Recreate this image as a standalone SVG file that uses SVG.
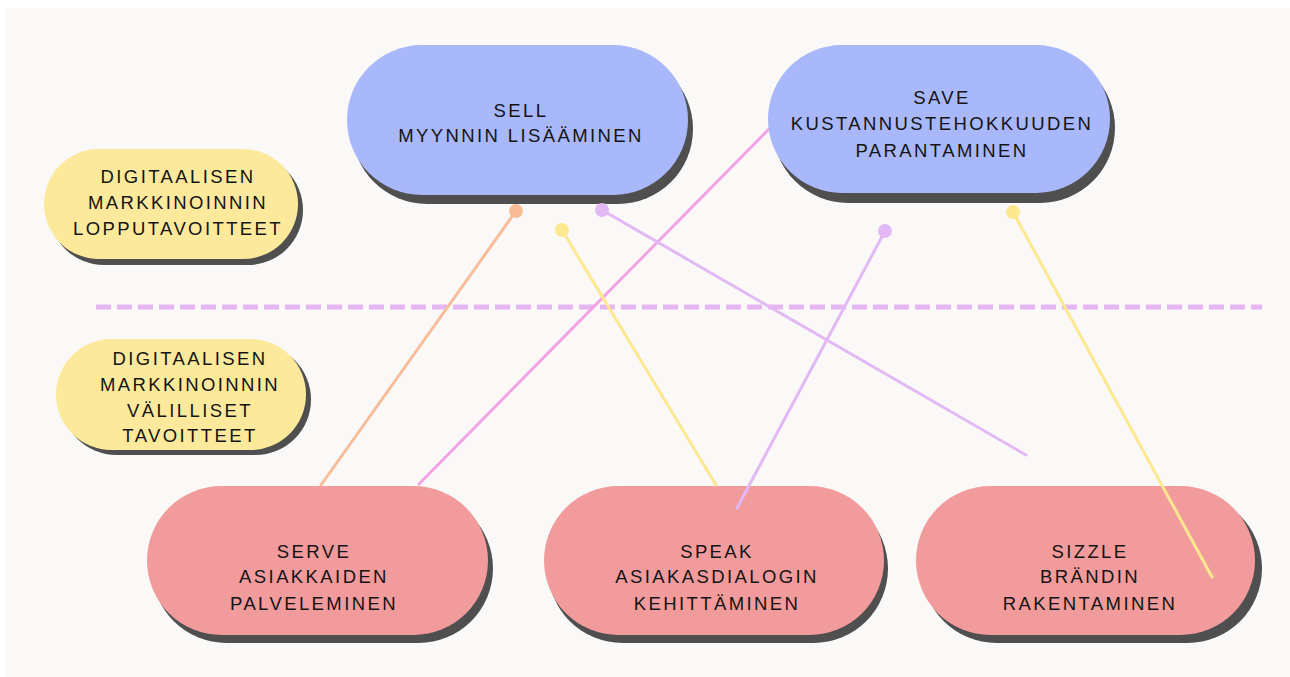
<svg xmlns="http://www.w3.org/2000/svg" width="1290" height="677" viewBox="0 0 1290 677">
<style>
.sh{fill:#4f4f4f}
.blue{fill:#a9b8fa}
.yel{fill:#fde99b}
.red{fill:#f29b9c}
.t{font-family:"Liberation Sans",Arial,sans-serif;font-size:18.5px;letter-spacing:2.4px;fill:#141414;text-anchor:middle}
.c{fill:none;stroke-width:3;stroke-linecap:round}
</style>
<rect x="0" y="0" width="1290" height="677" fill="#ffffff"/>
<rect x="6" y="8" width="1284" height="669" fill="#faf9f8"/>
<g id="divider">
<line x1="96" y1="307" x2="1262" y2="307" stroke="#e6b6f2" stroke-width="5" stroke-dasharray="15 6"/>
</g>
<g id="node-lopputavoitteet">
<rect class="sh" x="49" y="155" width="254" height="110" rx="55"/>
<rect class="yel" x="44" y="149" width="254" height="110" rx="55"/>
<text class="t" x="178"><tspan x="178" y="183">DIGITAALISEN</tspan><tspan x="178" y="209">MARKKINOINNIN</tspan><tspan x="178" y="235">LOPPUTAVOITTEET</tspan></text>
</g>
<g id="node-valilliset">
<rect class="sh" x="61" y="344" width="250" height="111" rx="55.5"/>
<rect class="yel" x="56" y="339" width="250" height="111" rx="55.5"/>
<text class="t" x="190"><tspan x="190" y="365">DIGITAALISEN</tspan><tspan x="190" y="391">MARKKINOINNIN</tspan><tspan x="190" y="417">VÄLILLISET</tspan><tspan x="190" y="442">TAVOITTEET</tspan></text>
</g>
<g id="connectors-under">
<line class="c" x1="770" y1="128" x2="419" y2="484" stroke="#f2a3e6"/>
</g>
<g id="node-sell">
<rect class="sh" x="352" y="54" width="341" height="150" rx="75"/>
<rect class="blue" x="347" y="45" width="341" height="150" rx="75"/>
<text class="t" x="521"><tspan x="521" y="117">SELL</tspan><tspan x="521" y="142">MYYNNIN LISÄÄMINEN</tspan></text>
</g>
<g id="node-save">
<rect class="sh" x="773" y="53" width="342" height="150" rx="75"/>
<rect class="blue" x="768" y="45" width="342" height="148" rx="74"/>
<text class="t" x="942"><tspan x="942" y="104">SAVE</tspan><tspan x="942" y="130">KUSTANNUSTEHOKKUUDEN</tspan><tspan x="942" y="157">PARANTAMINEN</tspan></text>
</g>
<g id="node-serve">
<rect class="sh" x="152" y="494" width="341" height="149" rx="74.5"/>
<rect class="red" x="147" y="486" width="341" height="149" rx="74.5"/>
<text class="t" x="314"><tspan x="314" y="558">SERVE</tspan><tspan x="314" y="583">ASIAKKAIDEN</tspan><tspan x="314" y="610">PALVELEMINEN</tspan></text>
</g>
<g id="node-speak">
<rect class="sh" x="548" y="494" width="340" height="149" rx="74.5"/>
<rect class="red" x="544" y="486" width="340" height="149" rx="74.5"/>
<text class="t" x="717"><tspan x="717" y="558">SPEAK</tspan><tspan x="717" y="583">ASIAKASDIALOGIN</tspan><tspan x="717" y="610">KEHITTÄMINEN</tspan></text>
</g>
<g id="node-sizzle">
<rect class="sh" x="922" y="494" width="340" height="149" rx="74.5"/>
<rect class="red" x="916" y="486" width="339" height="149" rx="74.5"/>
<text class="t" x="1090"><tspan x="1090" y="558">SIZZLE</tspan><tspan x="1090" y="583">BRÄNDIN</tspan><tspan x="1090" y="610">RAKENTAMINEN</tspan></text>
</g>
<g id="connectors">
<line class="c" x1="516" y1="211" x2="321" y2="485" stroke="#f8bd98"/>
<circle cx="516" cy="211" r="7" fill="#f8bd98"/>
<line class="c" x1="562" y1="230" x2="716" y2="485" stroke="#fde78f"/>
<circle cx="562" cy="230" r="7" fill="#fde78f"/>
<line class="c" x1="602" y1="210" x2="1026" y2="455" stroke="#e2b9f5"/>
<circle cx="602" cy="210" r="7" fill="#e2b9f5"/>
<line class="c" x1="885" y1="231" x2="737" y2="508" stroke="#e2b9f5"/>
<circle cx="885" cy="231" r="7" fill="#e2b9f5"/>
<line class="c" x1="1013" y1="212" x2="1212" y2="577" stroke="#fde78f"/>
<circle cx="1013" cy="212" r="7" fill="#fde78f"/>
</g>
</svg>
